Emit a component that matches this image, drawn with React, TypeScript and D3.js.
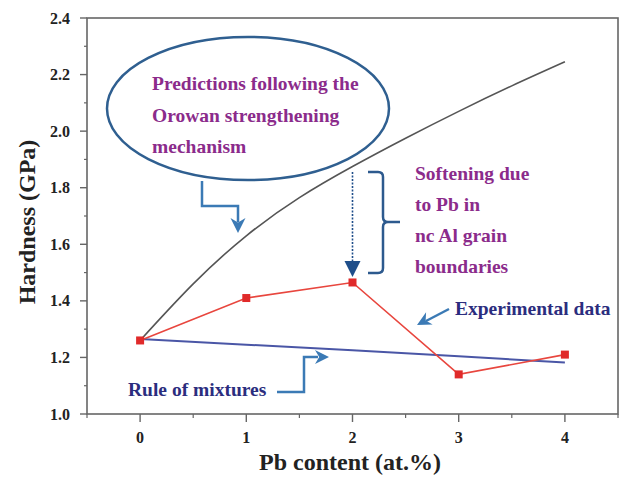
import React from 'react'
import * as d3 from 'd3'

// values
const pbContent = [0, 1, 2, 3, 4]
const experimental = [1.26, 1.41, 1.465, 1.14, 1.21]
const ruleOfMixtures = [1.265, 1.245, 1.225, 1.204, 1.182]
const orowanX = [0, 0.5, 1, 1.5, 2, 2.5, 3, 3.5, 4]
const orowanY = [1.26, 1.46, 1.63, 1.765, 1.875, 1.975, 2.07, 2.16, 2.245]
const xTicks = [0, 1, 2, 3, 4]
const yTicks = [1.0, 1.2, 1.4, 1.6, 1.8, 2.0, 2.2, 2.4]
const ellipseLines = ['Predictions following the', 'Orowan strengthening', 'mechanism']
const softeningLines = ['Softening due', 'to Pb in', 'nc Al grain', 'boundaries']

const W = 620
const H = 480
const margin = { top: 18, right: 2, bottom: 66, left: 87 }
const FONT = "'Liberation Serif', 'DejaVu Serif', serif"
const PURPLE = '#8b2b8b'
const NAVY = '#2b2d7e'
const ARROW = '#3b7ab5'

const x = d3.scaleLinear().domain([-0.5, 4.5]).range([margin.left, W - margin.right])
const y = d3.scaleLinear().domain([1.0, 2.4]).range([H - margin.bottom, margin.top])

const xMinor = d3.range(-0.5, 4.51, 0.5).filter(v => !xTicks.includes(v))
const yMinor = d3.range(1.1, 2.4, 0.2)

const Arrowhead = ({ tipX, tipY, angle, color, size = 15 }:
  { tipX: number, tipY: number, angle: number, color: string, size?: number }) => {
  // arrow pointing along +x, rotated by angle (deg)
  const s = size
  const d = `M0,0 L${-s},${-s * 0.5} L${-s * 0.7},0 L${-s},${s * 0.5} Z`
  return <path d={d} fill={color} transform={`translate(${tipX},${tipY}) rotate(${angle})`} />
}

export default function App() {
  const expLine = d3.line<number>().x((_, i) => x(pbContent[i])).y(d => y(d))
  const orowanLine = d3.line<number>().x((_, i) => x(orowanX[i])).y(d => y(d)).curve(d3.curveNatural)

  const left = margin.left
  const right = W - margin.right
  const top = margin.top
  const bottom = H - margin.bottom

  const dotX = x(2)
  const dotTop = 172
  const dotTip = 277

  return (
    <svg width={W} height={H} style={{ position: 'absolute', left: 0, top: 0, background: '#fff', fontFamily: FONT, fontWeight: 'bold' }}>
      {/* frame */}
      <rect x={left} y={top} width={right - left} height={bottom - top} fill="none" stroke="#666" strokeWidth={1.6} />

      {/* x ticks */}
      {xTicks.map(t => (
        <g key={'x' + t}>
          <line x1={x(t)} x2={x(t)} y1={bottom} y2={bottom + 8} stroke="#666" strokeWidth={1.4} />
          <text x={x(t)} y={bottom + 29} textAnchor="middle" fontSize={16} fill="#222">{t}</text>
        </g>
      ))}
      {xMinor.map(t => (
        <line key={'xm' + t} x1={x(t)} x2={x(t)} y1={bottom} y2={bottom + 4} stroke="#666" strokeWidth={1.2} />
      ))}

      {/* y ticks */}
      {yTicks.map(t => (
        <g key={'y' + t}>
          <line x1={left - 7} x2={left} y1={y(t)} y2={y(t)} stroke="#666" strokeWidth={1.4} />
          <text x={left - 17} y={y(t) + 5.5} textAnchor="end" fontSize={16} fill="#222">{t.toFixed(1)}</text>
        </g>
      ))}
      {yMinor.map(t => (
        <line key={'ym' + t} x1={left - 3} x2={left} y1={y(t)} y2={y(t)} stroke="#666" strokeWidth={1.2} />
      ))}

      {/* axis titles */}
      <text x={350} y={470} textAnchor="middle" fontSize={24} fill="#222">Pb content (at.%)</text>
      <text transform={`translate(35,222) rotate(-90)`} textAnchor="middle" fontSize={24} fill="#222">Hardness (GPa)</text>

      {/* Orowan prediction */}
      <path d={orowanLine(orowanY) ?? ''} fill="none" stroke="#555" strokeWidth={1.6} />

      {/* rule of mixtures */}
      <path d={expLine(ruleOfMixtures) ?? ''} fill="none" stroke="#4a56a6" strokeWidth={2} />

      {/* experimental data */}
      <path d={expLine(experimental) ?? ''} fill="none" stroke="#e8463e" strokeWidth={1.6} />
      {experimental.map((v, i) => (
        <rect key={'p' + i} x={x(pbContent[i]) - 4} y={y(v) - 4} width={8} height={8} fill="#e02a2a" />
      ))}

      {/* ellipse callout */}
      <ellipse cx={248} cy={108.5} rx={141} ry={71.5} fill="none" stroke="#2f5f90" strokeWidth={2.5} />
      {ellipseLines.map((s, i) => (
        <text key={s} x={152} y={90 + i * 31.5} fontSize={19.5} fill={PURPLE}>{s}</text>
      ))}
      <path d="M202,181 V206 H238 V222" fill="none" stroke={ARROW} strokeWidth={2.5} />
      <Arrowhead tipX={238} tipY={233} angle={90} color={ARROW} size={15} />

      {/* softening annotation */}
      <line x1={dotX} x2={dotX} y1={dotTop} y2={dotTip - 12} stroke="#1f4e8a" strokeWidth={1.6} strokeDasharray="2,1.5" />
      <path d={`M${dotX - 8},${dotTip - 16} L${dotX + 8},${dotTip - 16} L${dotX},${dotTip} Z`} fill="#1f4e8a" />
      <path d="M368,172 H378 Q383,172 383,177 V217 Q383,222 388,222 H400 M388,222 Q383,222 383,227 V268 Q383,273 378,273 H368"
        fill="none" stroke="#2d5a8e" strokeWidth={2.5} />
      {softeningLines.map((s, i) => (
        <text key={s} x={415} y={180 + i * 31} fontSize={19.5} fill={PURPLE}>{s}</text>
      ))}

      {/* experimental data label */}
      <text x={455} y={315} fontSize={19.5} fill={NAVY}>Experimental data</text>
      <line x1={449} y1={309} x2={426} y2={321} stroke={ARROW} strokeWidth={2.5} />
      <Arrowhead tipX={417} tipY={325} angle={152} color={ARROW} size={14} />

      {/* rule of mixtures label */}
      <text x={128} y={396} fontSize={19.5} fill={NAVY}>Rule of mixtures</text>
      <path d="M277,392 H304 V357 H318" fill="none" stroke={ARROW} strokeWidth={2.5} />
      <Arrowhead tipX={329} tipY={357} angle={0} color={ARROW} size={14} />
    </svg>
  )
}
